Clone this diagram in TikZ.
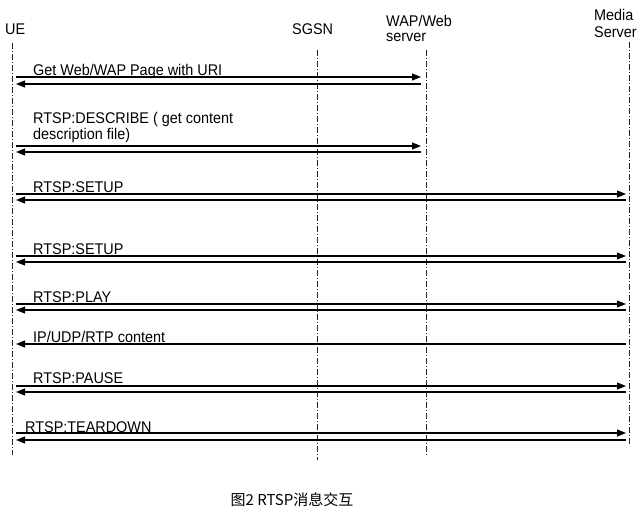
\documentclass[tikz,border=0pt]{standalone}
\usepackage{fontspec}
\setmainfont{Liberation Sans}[FakeStretch=0.93]
\newfontfamily\cjk{Noto Sans CJK SC}
\usetikzlibrary{arrows.meta}
\begin{document}
\begin{tikzpicture}[x=1pt,y=-1pt,
  life/.style={line width=0.8pt, dash pattern=on 6pt off 2pt on 1pt off 2pt, black!85},
  msg/.style={line width=1.1pt, -{Triangle[length=9pt,width=7pt]}},
  lbl/.style={anchor=base west, inner sep=0pt, align=left, font=\fontsize{15.5}{16.5}\selectfont},
]
\useasboundingbox (0,0) rectangle (643,516);
% headers
\node[lbl] (ueh) at (5,35) {UE};
\node[lbl] (sgsnh) at (292,35) {SGSN};
\node[lbl, font=\fontsize{15.5}{15}\selectfont] (waph) at (386,41.5) {WAP/Web\\server};
\node[lbl, font=\fontsize{15.5}{17}\selectfont] (mediah) at (594,37.3) {Media\\Server};
% lifelines
\coordinate (ue) at (12,43);   \coordinate (ueE) at (12,455);
\coordinate (sgsn) at (317,50); \coordinate (sgsnE) at (317,460);
\coordinate (wap) at (426,50);  \coordinate (wapE) at (426,455);
\coordinate (med) at (629,42);  \coordinate (medE) at (629,446);
\draw[life] (ue) -- (ueE);
\draw[life] (sgsn) -- (sgsnE);
\draw[life] (wap) -- (wapE);
\draw[life] (med) -- (medE);
% rows
\coordinate (r1a) at (0,77);  \coordinate (r1b) at (0,84);
\coordinate (r2a) at (0,146); \coordinate (r2b) at (0,152);
\coordinate (r3a) at (0,194); \coordinate (r3b) at (0,200);
\coordinate (r4a) at (0,256); \coordinate (r4b) at (0,262);
\coordinate (r5a) at (0,304); \coordinate (r5b) at (0,310);
\coordinate (r6b) at (0,344);
\coordinate (r7a) at (0,386); \coordinate (r7b) at (0,392);
\coordinate (r8a) at (0,433); \coordinate (r8b) at (0,440);
% messages
\draw[msg, shorten <=4pt, shorten >=5pt] (ue |- r1a) -- (wap |- r1a);
\draw[msg, shorten <=5pt, shorten >=4pt] (wap |- r1b) -- (ue |- r1b);
\draw[msg, shorten <=4pt, shorten >=5pt] (ue |- r2a) -- (wap |- r2a);
\draw[msg, shorten <=5pt, shorten >=4pt] (wap |- r2b) -- (ue |- r2b);
\foreach \r in {r3,r4,r5,r7,r8}{
  \draw[msg, shorten <=4pt, shorten >=3pt] (ue |- \r a) -- (med |- \r a);
  \draw[msg, shorten <=3pt, shorten >=4pt] (med |- \r b) -- (ue |- \r b);
}
\draw[msg, shorten <=3pt, shorten >=4pt] (med |- r6b) -- (ue |- r6b);
% labels
\node[lbl] (m1) at (33,76) {Get Web/WAP Page with URI};
\node[lbl] (m2) at (33,140) {RTSP:DESCRIBE ( get content\\description file)};
\node[lbl] (m3) at (33,193) {RTSP:SETUP};
\node[lbl] (m4) at (33,254.5) {RTSP:SETUP};
\node[lbl] (m5) at (33,302) {RTSP:PLAY};
\node[lbl] (m6) at (33,342.5) {IP/UDP/RTP content};
\node[lbl] (m7) at (33,383) {RTSP:PAUSE};
\node[lbl] (m8) at (25,432) {RTSP:TEARDOWN};
% caption
\node[font=\cjk\fontsize{15}{17}\selectfont, inner sep=0pt] (cap) at (292,500) {图2 RTSP消息交互};
\end{tikzpicture}
\end{document}
